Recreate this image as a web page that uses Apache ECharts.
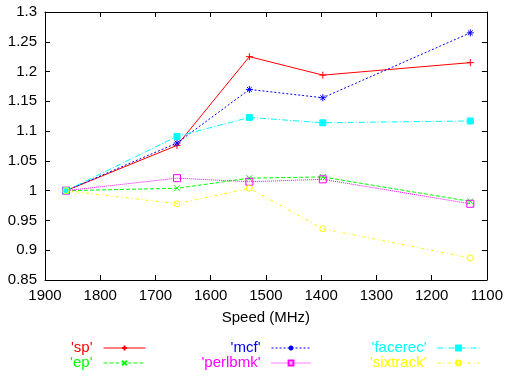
<!DOCTYPE html>
<html>
<head>
<meta charset="utf-8">
<script src="https://cdn.jsdelivr.net/npm/echarts@6/dist/echarts.min.js"></script>
<style>
  html, body { margin: 0; padding: 0; background: #fff; }
  #chart { width: 506px; height: 376px; }
</style>
</head>
<body>
<div id="chart"></div>
<script>
// clock speeds (MHz) and relative results per benchmark
var speeds = [1862, 1661, 1530, 1397, 1130];
var sp = [1.0, 1.076, 1.225, 1.194, 1.215];
var ep = [1.0, 1.004, 1.021, 1.023, 0.982];
var mcf = [1.0, 1.080, 1.170, 1.156, 1.265];
var perlbmk = [1.0, 1.021, 1.015, 1.019, 0.978];
var facerec = [1.0, 1.091, 1.123, 1.114, 1.117];
var sixtrack = [1.0, 0.978, 1.004, 0.936, 0.887];

var FONT = 'Liberation Sans, Arial, Helvetica, sans-serif';

var plusSym = 'path://M0,5L10,5M5,0L5,10';
var crossSym = 'path://M0,0L10,10M10,0L0,10';
var starSym = 'path://M0,5L10,5M5,0L5,10M1.5,1.5L8.5,8.5M8.5,1.5L1.5,8.5';

function pairs(vals) {
    var list = [];
    for (var i = 0; i < speeds.length; i++) {
        list.push([speeds[i], vals[i]]);
    }
    return list;
}

function makeSeries(name, vals, color, dash, symbol, size, filled) {
    return {
        name: name,
        type: 'line',
        data: pairs(vals),
        symbol: symbol,
        symbolSize: size,
        showAllSymbol: true,
        lineStyle: {color: color, width: 1, type: dash},
        itemStyle: {
            color: filled ? color : 'rgba(0,0,0,0)',
            borderColor: color,
            borderWidth: 1
        },
        emphasis: {disabled: true},
        animation: false
    };
}

function legendCol(names, colors, right, lineLen) {
    return {
        orient: 'vertical',
        align: 'right',
        right: right,
        top: 340.5,
        padding: 0,
        itemGap: 0,
        itemWidth: lineLen,
        itemHeight: 6,
        selectedMode: false,
        lineStyle: {width: 1},
        textStyle: {
            fontFamily: FONT,
            fontSize: 15,
            lineHeight: 15,
            width: 70,
            align: 'right',
            padding: [0, 6, 0, 0]
        },
        data: names.map(function (n, i) {
            return {name: n, textStyle: {color: colors[i]}};
        })
    };
}

var chart = echarts.init(document.getElementById('chart'));

var axisCommon = {
    type: 'value',
    axisLine: {show: true, lineStyle: {color: '#000', width: 1}},
    axisTick: {show: true, inside: true, length: 5, lineStyle: {color: '#000'}},
    splitLine: {show: false}
};

chart.setOption({
    backgroundColor: '#fff',
    animation: false,
    grid: {left: 45, right: 18, top: 12, bottom: 96},
    xAxis: [
        Object.assign({}, axisCommon, {
            position: 'bottom',
            inverse: true,
            min: 1100,
            max: 1900,
            interval: 100,
            name: 'Speed (MHz)',
            nameLocation: 'middle',
            nameGap: 30,
            nameTextStyle: {fontFamily: FONT, fontSize: 15, color: '#000'},
            axisLabel: {
                fontFamily: FONT, fontSize: 15, color: '#000', margin: 8,
                formatter: function (v) { return String(v); }
            }
        }),
        Object.assign({}, axisCommon, {
            position: 'top',
            inverse: true,
            min: 1100,
            max: 1900,
            interval: 100,
            axisLabel: {show: false}
        })
    ],
    yAxis: [
        Object.assign({}, axisCommon, {
            position: 'left',
            min: 0.85,
            max: 1.3,
            interval: 0.05,
            axisLabel: {fontFamily: FONT, fontSize: 15, color: '#000', margin: 8}
        }),
        Object.assign({}, axisCommon, {
            position: 'right',
            min: 0.85,
            max: 1.3,
            interval: 0.05,
            axisLabel: {show: false}
        })
    ],
    legend: [
        legendCol(["'sp'", "'ep'"], ['#ff0000', '#00ff00'], 360, 42),
        legendCol(["'mcf'", "'perlbmk'"], ['#0000ff', '#ff00ff'], 195, 39),
        legendCol(["'facerec'", "'sixtrack'"], ['#00ffff', '#ffff00'], 26, 42)
    ],
    series: [
        makeSeries("'sp'", sp, '#ff0000', 'solid', plusSym, 7, true),
        makeSeries("'ep'", ep, '#00ff00', [4, 2], crossSym, 6, true),
        makeSeries("'mcf'", mcf, '#0000ff', [2, 2], starSym, 7, true),
        makeSeries("'perlbmk'", perlbmk, '#ff00ff', [1, 1], 'rect', 7, false),
        makeSeries("'facerec'", facerec, '#00ffff', [6, 2, 1, 2], 'rect', 6, true),
        makeSeries("'sixtrack'", sixtrack, '#ffff00', [3, 3, 1, 3], 'circle', 6, false)
    ]
});
</script>
</body>
</html>
